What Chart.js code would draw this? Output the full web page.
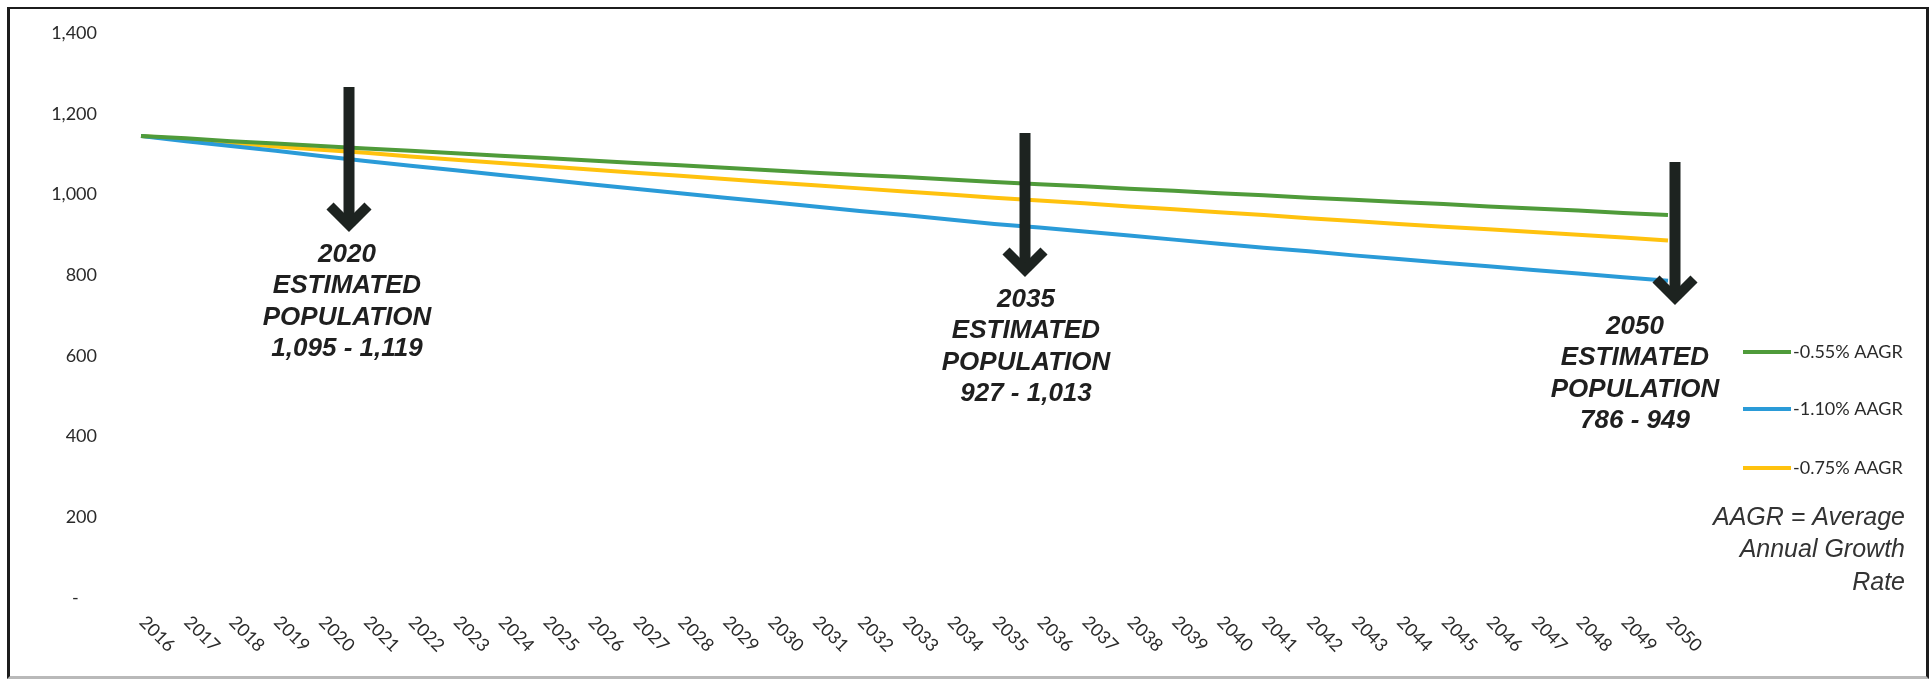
<!DOCTYPE html>
<html>
<head>
<meta charset="utf-8">
<title>Population Projection 2016–2050</title>
<script src="https://cdn.jsdelivr.net/npm/chart.js@4/dist/chart.umd.min.js"></script>
<style>
  html, body { margin: 0; padding: 0; background: #fff; }
  #wrap { position: relative; width: 1932px; height: 681px; overflow: hidden; }
  #frame {
    position: absolute; left: 7px; top: 7px; width: 1922px; height: 672px;
    box-sizing: border-box; pointer-events: none;
    border-left: 3px solid #1c1c1c; border-top: 2px solid #1c1c1c;
    border-right: 3px solid #1c1c1c; border-bottom: 3px solid #b9b9b9;
  }
</style>
</head>
<body>
<div id="wrap">
  <canvas id="chart" width="1932" height="681"></canvas>
  <div id="frame"></div>
</div>
<script>
// Projection years
const years = ['2016','2017','2018','2019','2020','2021','2022','2023','2024','2025',
  '2026','2027','2028','2029','2030','2031','2032','2033','2034','2035',
  '2036','2037','2038','2039','2040','2041','2042','2043','2044','2045',
  '2046','2047','2048','2049','2050'];

// Population under three average annual growth rates
const aagr055 = [1145,1139,1132,1126,1120,1114,1108,1102,1096,1090,
  1084,1078,1072,1066,1060,1054,1048,1043,1037,1031,
  1025,1020,1014,1009,1003,998,992,987,981,976,
  970,965,960,954,949];
const aagr110 = [1145,1132,1120,1108,1095,1083,1071,1060,1048,1037,
  1025,1014,1003,992,981,970,959,949,938,927,
  918,908,898,888,878,868,859,849,840,831,
  822,813,804,795,786];
const aagr075 = [1145,1136,1128,1119,1111,1103,1094,1086,1078,1070,
  1062,1054,1046,1038,1030,1023,1015,1007,1000,992,
  985,978,970,963,956,949,941,934,927,920,
  914,907,900,893,886];

const seriesNames = ['-0.55% AAGR', '-1.10% AAGR', '-0.75% AAGR'];

// Y axis range
const yMin = 0, yMax = 1400, yStep = 200;

// Callout text blocks
const callouts = [
  { lines: ['2020', 'ESTIMATED', 'POPULATION', '1,095 - 1,119'] },
  { lines: ['2035', 'ESTIMATED', 'POPULATION', '927 - 1,013'] },
  { lines: ['2050', 'ESTIMATED', 'POPULATION', '786 - 949'] }
];
const noteLines = ['AAGR = Average', 'Annual Growth', 'Rate'];

// ---- styling / placement (pixels) ----
const colors = ['#4f9b3a', '#2a9bd8', '#ffc20e'];
const arrowGeom = [
  { cx: 349, top: 87, tip: 232, tx: 347, ty: 255 },
  { cx: 1025, top: 133, tip: 277, tx: 1026, ty: 300 },
  { cx: 1675, top: 162, tip: 305, tx: 1635, ty: 327 }
];
const tickFont = '18px Lato, "Open Sans", sans-serif';
const tickColor = '#2a2a2a';

const xLabelPlugin = {
  id: 'xLabels',
  afterDraw(chart) {
    const { ctx, scales: { x } } = chart;
    ctx.save();
    ctx.font = tickFont;
    ctx.fillStyle = tickColor;
    ctx.textAlign = 'center';
    ctx.textBaseline = 'middle';
    chart.data.labels.forEach((lab, i) => {
      const px = x.getPixelForValue(i);
      ctx.save();
      ctx.translate(px + 16, 634);
      ctx.rotate(Math.PI / 4);
      ctx.fillText(lab, 0, 0);
      ctx.restore();
    });
    ctx.restore();
  }
};

const calloutPlugin = {
  id: 'callouts',
  afterDraw(chart) {
    const { ctx } = chart;
    ctx.save();
    arrowGeom.forEach((g, k) => {
      const col = '#1d2320';
      const w = 10, d = 19;
      const apex = g.tip - 7;
      ctx.fillStyle = col;
      ctx.fillRect(g.cx - 5.5, g.top, 11, apex - g.top);
      ctx.strokeStyle = col;
      ctx.lineWidth = w;
      ctx.lineJoin = 'miter';
      ctx.lineCap = 'butt';
      ctx.beginPath();
      ctx.moveTo(g.cx - d, apex - d);
      ctx.lineTo(g.cx, apex);
      ctx.lineTo(g.cx + d, apex - d);
      ctx.stroke();

      ctx.font = 'italic bold 26px "Liberation Sans", Arial, sans-serif';
      ctx.fillStyle = '#1f1f1f';
      ctx.textAlign = 'center';
      ctx.textBaseline = 'middle';
      callouts[k].lines.forEach((t, j) => ctx.fillText(t, g.tx, g.ty + j * 31.3));
    });
    ctx.restore();
  }
};

const sideLegendPlugin = {
  id: 'sideLegend',
  afterDraw(chart) {
    const { ctx } = chart;
    const rows = [352, 409, 468];
    ctx.save();
    chart.data.datasets.forEach((ds, i) => {
      ctx.strokeStyle = ds.borderColor;
      ctx.lineWidth = 4;
      ctx.beginPath();
      ctx.moveTo(1743, rows[i]);
      ctx.lineTo(1791, rows[i]);
      ctx.stroke();
      ctx.font = tickFont;
      ctx.fillStyle = tickColor;
      ctx.textAlign = 'left';
      ctx.textBaseline = 'middle';
      ctx.fillText(ds.label, 1793, rows[i]);
    });
    ctx.font = 'italic 25px "Liberation Sans", Arial, sans-serif';
    ctx.fillStyle = '#333';
    ctx.textAlign = 'right';
    noteLines.forEach((t, j) => ctx.fillText(t, 1905, 518 + j * 32.5));
    ctx.restore();
  }
};

new Chart(document.getElementById('chart'), {
  type: 'line',
  data: {
    labels: years,
    datasets: [aagr055, aagr110, aagr075].map((vals, i) => ({
      label: seriesNames[i],
      data: vals,
      borderColor: colors[i],
      backgroundColor: colors[i],
      borderWidth: 4,
      pointRadius: 0,
      tension: 0,
      fill: false
    }))
  },
  options: {
    responsive: false,
    animation: false,
    layout: { padding: { left: 0, right: 264, top: 33, bottom: 83 } },
    plugins: { legend: { display: false }, tooltip: { enabled: false } },
    scales: {
      x: { display: false, offset: false },
      y: {
        min: yMin, max: yMax,
        grid: { display: false, drawTicks: false },
        border: { display: false },
        ticks: {
          stepSize: yStep,
          padding: 44,
          color: tickColor,
          font: { family: 'Lato, "Open Sans", sans-serif', size: 18 },
          callback: v => v === 0 ? '-    ' : v.toLocaleString('en-US')
        },
        afterFit(scale) {
          scale.width = 141;
          scale.paddingTop = 0;
          scale.paddingBottom = 0;
        }
      }
    }
  },
  plugins: [xLabelPlugin, calloutPlugin, sideLegendPlugin]
});
</script>
</body>
</html>
